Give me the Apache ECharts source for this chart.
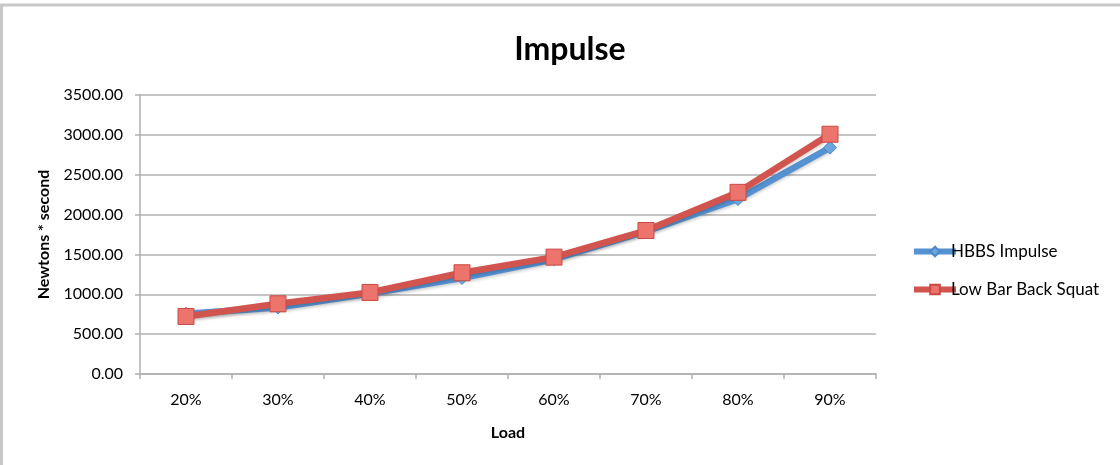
<!DOCTYPE html>
<html>
<head>
<meta charset="utf-8">
<script src="https://cdn.jsdelivr.net/npm/echarts@6/dist/echarts.min.js"></script>
<style>
html,body{margin:0;padding:0;background:#fff;}
#chart{width:1120px;height:465px;}
</style>
</head>
<body>
<div id="chart"></div>
<script>
const categories = ['20%', '30%', '40%', '50%', '60%', '70%', '80%', '90%'];
const hbbsImpulse = [755, 835, 1010, 1205, 1440, 1790, 2195, 2840];
const lowBarBackSquat = [722, 881, 1023, 1270, 1466, 1800, 2279, 3008];
const seriesNames = ['HBBS Impulse', 'Low Bar Back Squat'];

const FONT = 'Lato, "Open Sans", sans-serif';
const chart = echarts.init(document.getElementById('chart'), null, {renderer: 'canvas'});
chart.setOption({
  animation: false,
  backgroundColor: '#fff',
  title: {
    text: 'Impulse',
    left: 565, top: 29, textAlign: 'center',
    textStyle: {fontFamily: FONT, fontWeight: 'bold', fontSize: 32, color: '#000'}
  },
  graphic: [{
    type: 'rect', silent: true,
    shape: {x: 1.5, y: 5, width: 1200, height: 520},
    style: {fill: 'none', stroke: '#c8c8c8', lineWidth: 3}
  }],
  legend: {
    orient: 'vertical', left: 906, top: 238,
    itemWidth: 42, itemHeight: 12, itemGap: 21,
    data: seriesNames,
    lineStyle: {width: 6},
    textStyle: {fontFamily: FONT, fontSize: 17, color: '#000', padding: [0, 0, 0, -10]}
  },
  grid: {left: 140, right: 244, top: 95, bottom: 91, containLabel: false},
  xAxis: {
    type: 'category', data: categories, boundaryGap: true,
    name: 'Load', nameLocation: 'middle', nameGap: 51,
    nameTextStyle: {fontFamily: FONT, fontWeight: 'bold', fontSize: 16, color: '#000'},
    axisLine: {lineStyle: {color: '#b0b0b0', width: 1.5}},
    axisTick: {show: true, alignWithLabel: false, length: 5, lineStyle: {color: '#b0b0b0', width: 1.5}},
    axisLabel: {margin: 18, fontFamily: FONT, fontSize: 16, color: '#000'}
  },
  yAxis: {
    type: 'value', min: 0, max: 3500, interval: 500,
    name: 'Newtons * second', nameLocation: 'middle', nameGap: 88, nameRotate: 90,
    nameTextStyle: {fontFamily: FONT, fontWeight: 'bold', fontSize: 16, color: '#000'},
    axisLine: {show: true, lineStyle: {color: '#b0b0b0', width: 1.5}},
    axisTick: {show: true, length: 5, lineStyle: {color: '#b0b0b0', width: 1.5}},
    axisLabel: {margin: 17, fontFamily: FONT, fontSize: 16, color: '#000',
      formatter: v => v.toFixed(2)},
    splitLine: {lineStyle: {color: '#c4c4c4', width: 2}}
  },
  series: [
    {
      name: seriesNames[0], type: 'line', data: hbbsImpulse,
      symbol: 'diamond', symbolSize: 13,
      lineStyle: {color: '#5592d2', width: 6.5, shadowColor: 'rgba(0,0,0,0.18)', shadowBlur: 3, shadowOffsetY: 2},
      itemStyle: {color: '#6aa6e0', borderColor: '#4f88c8', borderWidth: 1}
    },
    {
      name: seriesNames[1], type: 'line', data: lowBarBackSquat,
      symbol: 'rect', symbolSize: 16,
      lineStyle: {color: '#d2544f', width: 6.5, shadowColor: 'rgba(0,0,0,0.18)', shadowBlur: 3, shadowOffsetY: 2},
      itemStyle: {color: '#ec746d', borderColor: '#c94a45', borderWidth: 1}
    }
  ]
});
</script>
</body>
</html>
